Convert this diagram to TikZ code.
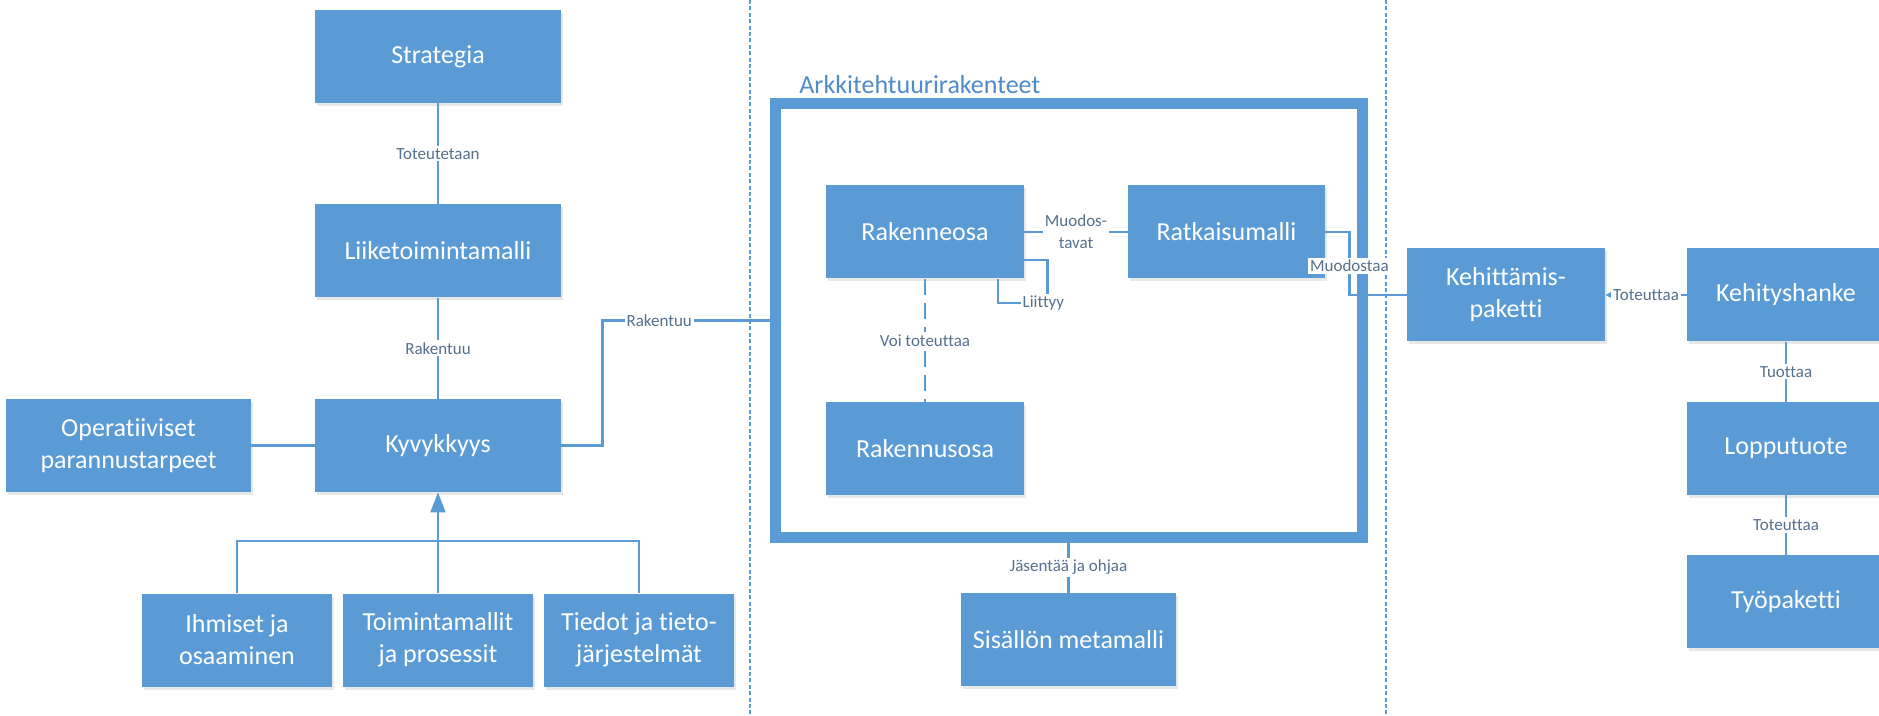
\documentclass[tikz,border=0pt]{standalone}
\usepackage{fontspec}
\setmainfont{Carlito}[Ligatures={NoCommon}]
\usepackage{tikz}
\usetikzlibrary{arrows.meta,positioning,shadows}
\definecolor{boxblue}{HTML}{5B9BD5}
\definecolor{lineblue}{HTML}{5B9BD5}
\definecolor{labelgray}{HTML}{56708E}
\definecolor{titleblue}{HTML}{4F8BC9}

\begin{document}
\begin{tikzpicture}[x=0.5pt,y=-0.5pt,
  every node/.style={align=center},
  box/.style={fill=boxblue,text=white,font=\fontsize{13}{16}\selectfont,minimum width=123pt,minimum height=46.5pt,inner sep=0pt,drop shadow={opacity=0.18,shadow xshift=1pt,shadow yshift=-1.5pt}},
  lbl/.style={fill=white,text=labelgray,font=\fontsize{8.5}{11}\selectfont,inner sep=1pt},
  conn/.style={draw=lineblue,line width=1.1pt},
  divider/.style={draw=lineblue,line width=0.8pt,dash pattern=on 2pt off 1.2pt},
  archframe/.style={draw=boxblue,line width=5.5pt,minimum width=293.5pt,minimum height=216.5pt,inner sep=0pt}
]
\useasboundingbox (0,0) rectangle (1879,716);
\draw[divider] (750,0) -- (750,716);
\draw[divider] (1386,0) -- (1386,716);

\node[box] (strat) at (438,56.5) {Strategia};
\node[box] (liike) at (438,251) {Liiketoimintamalli};
\node[box] (kyky) at (438,445.5) {Kyvykkyys};
\node[box,minimum width=122.5pt] (oper) at (128.5,445.5) {Operatiiviset\\parannustarpeet};
\node[box,minimum width=95pt] (ihm) at (237,640) {Ihmiset ja\\osaaminen};
\node[box,minimum width=95pt] (toim) at (438,640) {Toimintamallit\\ja prosessit};
\node[box,minimum width=95pt] (tied) at (639,640) {Tiedot ja tieto-\\järjestelmät};

\node[archframe] (arch) at (1068.5,320.5) {};
\node[font=\fontsize{13}{16}\selectfont,text=titleblue,anchor=west,inner sep=0pt] (archtitle) at (799,85) {Arkkitehtuurirakenteet};
\node[box,minimum width=99pt] (rak) at (925,232) {Rakenneosa};
\node[box,minimum width=98.5pt] (ratk) at (1226.5,232) {Ratkaisumalli};
\node[box,minimum width=99pt] (rakn) at (925,448.5) {Rakennusosa};
\node[box,minimum width=107.5pt] (meta) at (1068.5,639.5) {Sisällön metamalli};

\node[box,minimum width=99pt] (kpak) at (1506,295) {Kehittämis-\\paketti};
\node[box,minimum width=99pt] (hanke) at (1786,295) {Kehityshanke};
\node[box,minimum width=99pt] (lopp) at (1786,448.5) {Lopputuote};
\node[box,minimum width=99pt] (tyo) at (1786,601.5) {Työpaketti};

\draw[conn] (strat) -- node[lbl]{Toteutetaan} (liike);
\draw[conn] (liike) -- node[lbl]{Rakentuu} (kyky);
\draw[conn] (oper) -- (kyky);
\draw[conn] (kyky.east) -- ++(41,0) |- node[lbl,pos=0.67]{Rakentuu} (arch.west);
\draw[conn,-{Triangle[length=10pt,width=7.5pt]}] (toim) -- (kyky);
\draw[conn] (ihm.north) -- ++(0,-52) -| (tied.north);

\draw[conn] (rak) -- node[lbl]{Muodos-\\tavat} (ratk);
\draw[conn] ([yshift=-14pt]rak.east) -- ++(23,0) -- ++(0,43) node[lbl,xshift=-2pt]{Liittyy} -| ([xshift=36.5pt]rak.south);
\draw[conn,dash pattern=on 8pt off 4pt] (rak) -- node[lbl]{Voi toteuttaa} (rakn);
\draw[conn] (ratk.east) -- ++(24,0) |- node[lbl,pos=0.27]{Muodostaa} (kpak.west);
\draw[conn] (arch) -- node[lbl]{Jäsentää ja ohjaa} (meta);

\draw[conn,-{Triangle[length=3pt,width=3pt]}] (hanke) -- node[lbl]{Toteuttaa} (kpak);
\draw[conn] (hanke) -- node[lbl]{Tuottaa} (lopp);
\draw[conn] (lopp) -- node[lbl]{Toteuttaa} (tyo);
\end{tikzpicture}
\end{document}
